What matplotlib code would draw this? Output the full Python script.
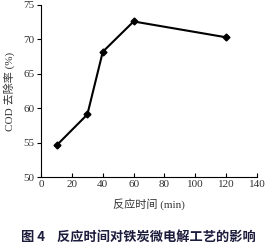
import matplotlib.pyplot as plt

# Data
time_min = [10, 30, 40, 60, 120]
cod_removal = [54.6, 59.1, 68.2, 72.6, 70.3]
x_ticks = [0, 20, 40, 60, 80, 100, 120, 140]
y_ticks = [50, 55, 60, 65, 70, 75]

serif = ['Liberation Serif', 'DejaVu Serif']
cjk = ['Liberation Serif', 'Noto Sans CJK SC']

fig = plt.figure(figsize=(2.76, 2.47), dpi=100)
ax = fig.add_axes([0.149, 0.283, 0.782, 0.697])

ax.plot(time_min, cod_removal, color='black', linewidth=1.5,
        marker='D', markersize=3.5)

ax.set_xlim(0, 140)
ax.set_ylim(50, 75)
ax.set_xticks(x_ticks)
ax.set_yticks(y_ticks)
for lab in ax.get_xticklabels() + ax.get_yticklabels():
    lab.set_family(serif)
    lab.set_fontsize(8)
    lab.set_color('#333333')
ax.tick_params(axis='x', direction='in', length=3, pad=2)
ax.tick_params(axis='y', direction='out', length=3, pad=2)
ax.spines['top'].set_visible(False)
ax.spines['right'].set_visible(False)

ax.set_xlabel('反应时间 (min)', family=cjk, fontsize=8, color='#333333', labelpad=7)
ax.set_ylabel('COD 去除率 (%)', family=cjk, fontsize=8, color='#333333', labelpad=6)

# Caption
fig.text(0.5, 0.042, '图 4    反应时间对铁炭微电解工艺的影响', ha='center', va='center',
         family=['Noto Sans CJK SC', 'DejaVu Sans'], fontsize=9.5, weight='bold',
         color='#1c1c3c')

plt.savefig('out.png', dpi=100)
